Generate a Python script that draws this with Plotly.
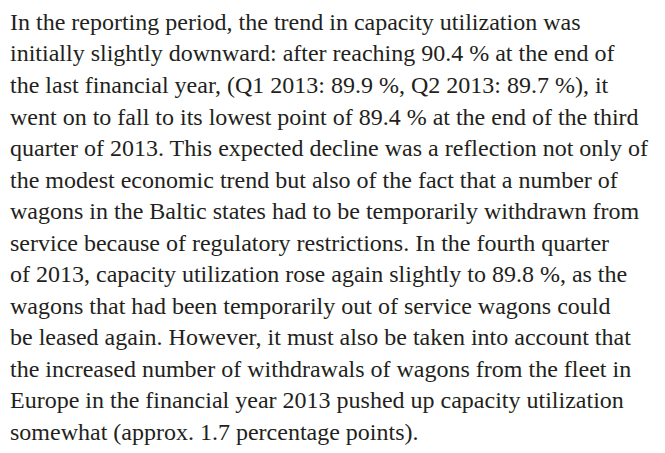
import plotly.graph_objects as go

# Text content (one entry per rendered line)
text_lines = [
    "In the reporting period, the trend in capacity utilization was",
    "initially slightly downward: after reaching 90.4 % at the end of",
    "the last financial year, (Q1 2013: 89.9 %, Q2 2013: 89.7 %), it",
    "went on to fall to its lowest point of 89.4 % at the end of the third",
    "quarter of 2013. This expected decline was a reflection not only of",
    "the modest economic trend but also of the fact that a number of",
    "wagons in the Baltic states had to be temporarily withdrawn from",
    "service because of regulatory restrictions. In the fourth quarter",
    "of 2013, capacity utilization rose again slightly to 89.8 %, as the",
    "wagons that had been temporarily out of service wagons could",
    "be leased again. However, it must also be taken into account that",
    "the increased number of withdrawals of wagons from the fleet in",
    "Europe in the financial year 2013 pushed up capacity utilization",
    "somewhat (approx. 1.7 percentage points).",
]

W, H = 665, 453
left_px = 0
first_center_px = 14
line_step_px = 31.5
font_size = 24

fig = go.Figure()
annotations = []
for i, line in enumerate(text_lines):
    yc = first_center_px + i * line_step_px
    annotations.append(dict(
        text=line, x=left_px / W, y=1 - yc / H, xref="paper", yref="paper",
        xanchor="left", yanchor="middle", showarrow=False,
        font=dict(family="Liberation Serif", size=font_size, color="#231f20"),
    ))

fig.update_layout(
    width=W, height=H, margin=dict(l=0, r=0, t=0, b=0),
    paper_bgcolor="white", plot_bgcolor="white",
    xaxis=dict(visible=False), yaxis=dict(visible=False),
    annotations=annotations, showlegend=False,
)
fig.write_html("out.html")
